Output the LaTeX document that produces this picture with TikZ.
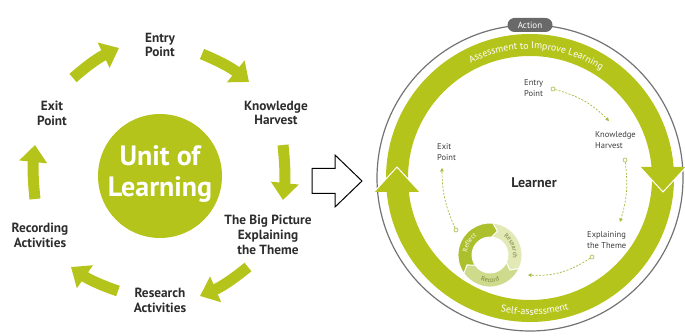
\documentclass[tikz,border=0pt]{standalone}
\usepackage{fontspec}
\setmainfont{PT Sans}
\usetikzlibrary{arrows.meta,decorations.text}
\definecolor{lg}{RGB}{181,196,27}
\definecolor{dgr}{RGB}{165,185,60}
\definecolor{lblgrey}{RGB}{45,45,45}
\definecolor{sgrey}{RGB}{60,60,60}
\definecolor{circgrey}{RGB}{115,115,115}
\definecolor{pillgrey}{RGB}{105,105,105}
\definecolor{reflectc}{RGB}{172,192,45}
\definecolor{researchc}{RGB}{226,232,182}
\definecolor{recordc}{RGB}{206,219,140}
\definecolor{ringtxt}{RGB}{120,135,60}
\newcommand{\ringseg}[3]{%
  \filldraw[fill=#1, draw=white, line width=0.9pt] (#2:32) arc[start angle=#2, end angle=#3, radius=32] -- ({#3-12}:25) -- (#3:18) arc[start angle=#3, end angle=#2, radius=18] -- ({#2-12}:25) -- cycle;}
\begin{document}
\begin{tikzpicture}[x=1pt,y=1pt,
  lbl/.style={font=\bfseries\fontsize{13.3}{14.8}\selectfont, text=lblgrey, align=center, inner sep=0},
  slbl/.style={font=\fontsize{8.5}{10.5}\selectfont, text=sgrey, align=left, inner sep=0, anchor=west},
  bigarrow/.style={draw=lg, line width=11pt, -{Triangle[length=17pt,width=27pt]}},
  dotc/.style={circle, draw=dgr, fill=white, line width=0.6pt, minimum size=4pt, inner sep=0},
  dashcon/.style={draw=dgr, line width=0.7pt, dash pattern=on 2pt off 1.5pt, -{Triangle[length=3.5pt,width=3.5pt]}}
]
\useasboundingbox (0,0) rectangle (685,-336);

% ---------- left cycle ----------
\node[circle, fill=lg, minimum size=124pt, inner sep=0] (unit) at (160,-176) {};
\node[font=\bfseries\fontsize{28}{31}\selectfont, text=white, align=center, inner sep=0] (unitt) at (160,-174) {Unit of\\Learning};

\node[lbl] (entry) at (160,-45) {Entry\\Point};
\node[lbl] (know) at (276,-113) {Knowledge\\Harvest};
\node[lbl] (big) at (268,-235) {The Big Picture\\Explaining\\the Theme};
\node[lbl] (res) at (160,-300) {Research\\Activities};
\node[lbl] (rec) at (40,-235) {Recording\\Activities};
\node[lbl] (exit) at (52,-113) {Exit\\Point};

\coordinate (a1s) at (73,-78);   \coordinate (a1e) at (119,-48);
\coordinate (a2s) at (202,-54);  \coordinate (a2e) at (249,-82);
\coordinate (a3s) at (283,-145); \coordinate (a3e) at (283,-200);
\coordinate (a4s) at (248,-267); \coordinate (a4e) at (200,-296);
\coordinate (a5s) at (118,-291); \coordinate (a5e) at (71,-267);
\coordinate (a6s) at (35,-199);  \coordinate (a6e) at (35,-145);
\draw[bigarrow] (a1s) to[bend left=8] (a1e);
\draw[bigarrow] (a2s) to[bend left=8] (a2e);
\draw[bigarrow] (a3s) to[bend left=6] (a3e);
\draw[bigarrow] (a4s) to[bend left=8] (a4e);
\draw[bigarrow] (a5s) to[bend left=8] (a5e);
\draw[bigarrow] (a6s) to[bend left=6] (a6e);

% ---------- hollow arrow ----------
\draw[black, line width=1pt, line join=miter] (312,-168.5) -- (335,-168.5) -- (335,-155) -- (362,-181) -- (335,-207) -- (335,-193.5) -- (312,-193.5) -- cycle;

% ---------- right circle ----------
\draw[circgrey, line width=1.2pt] (530,-178) circle (153);
\fill[lg, even odd rule] (530,-178) circle (144) (530,-178) circle (122);
% arrowheads on the ring
\fill[lg] (374,-192) -- (397,-167) -- (420,-192) -- cycle;
\draw[white, line width=1pt] (374,-192) -- (397,-167) -- (420,-192);
\fill[lg] (640,-167) -- (663,-192) -- (686,-167) -- cycle;
\draw[white, line width=1pt] (640,-167) -- (663,-192) -- (686,-167);

\node[fill=pillgrey, rounded corners=7pt, minimum width=45pt, minimum height=14pt, inner sep=0, text=white, font=\fontsize{9}{10}\selectfont] (action) at (530,-25) {Action};

\path[decorate, decoration={text along path, text align=center,
  text={|\color{white}\fontsize{9.8}{10}\selectfont|Assessment to Improve Learning}}]
  (530,-178) ++(132:129) arc[start angle=132, end angle=42, radius=129];
\path[decorate, decoration={text along path, text align=center,
  text={|\color{white}\fontsize{10}{11}\selectfont|Self-assessment}}]
  (530,-178) ++(236:137) arc[start angle=236, end angle=308, radius=137];

\node[font=\bfseries\fontsize{14}{16}\selectfont, text=lblgrey] (learner) at (534,-183) {Learner};

\node[slbl] (entry2) at (524,-88) {Entry\\Point};
\node[slbl] (know2) at (595,-140) {Knowledge\\Harvest};
\node[slbl] (expl2) at (587,-240) {Explaining\\the Theme};
\node[slbl] (exit2) at (437,-152) {Exit\\Point};

\node[dotc] (d1) at (553,-89) {};
\node[dotc] (d2) at (625,-160) {};
\node[dotc] (d3) at (592,-257) {};
\node[dotc] (d4) at (456,-230) {};
\coordinate (e1) at (609,-121);
\coordinate (e2) at (620,-222);
\coordinate (e3) at (528,-275);
\coordinate (e4) at (442,-168);
\draw[dashcon] (d1) to[bend left=15] (e1);
\draw[dashcon] (d2) to[bend left=12] (e2);
\draw[dashcon] (d3) to[bend left=18] (e3);
\draw[dashcon] (d4) to[bend left=12] (e4);

% ---------- small ring ----------
\begin{scope}[shift={(490,-255)}]
  \ringseg{researchc}{85}{-25}
  \ringseg{recordc}{-25}{-145}
  \ringseg{reflectc}{215}{85}
  \path[decorate, decoration={text along path, text align=center,
    text={|\color{white}\fontsize{6.5}{7}\selectfont|Reflect}}]
    (190:23) arc[start angle=190, end angle=110, radius=23];
  \path[decorate, decoration={text along path, text align=center,
    text={|\color{ringtxt}\fontsize{6.5}{7}\selectfont|Research}}]
    (65:23) arc[start angle=65, end angle=-20, radius=23];
  \path[decorate, decoration={text along path, text align=center,
    text={|\color{ringtxt}\fontsize{6.5}{7}\selectfont|Record}}]
    (235:27.5) arc[start angle=235, end angle=305, radius=27.5];
\end{scope}
\end{tikzpicture}
\end{document}
